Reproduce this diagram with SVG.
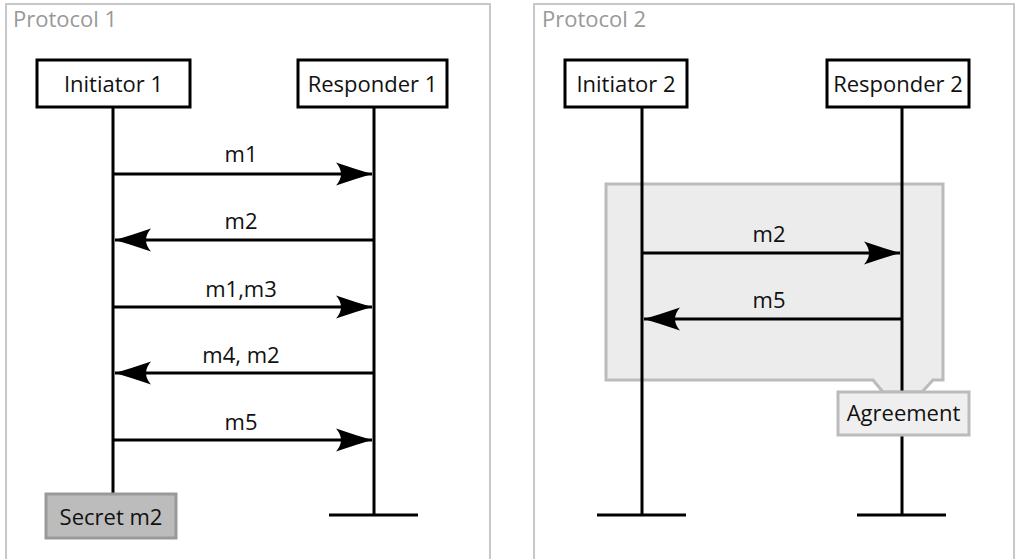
<svg xmlns="http://www.w3.org/2000/svg" width="1019" height="559" viewBox="0 0 1019 559">
<style>
text{font-family:"Open Sans","Liberation Sans",sans-serif;font-size:22px;fill:#111}
.frame{fill:none;stroke:#c8c8c8;stroke-width:2}
.title{fill:#999;font-size:22px}
.actor{fill:#fff;stroke:#000;stroke-width:3}
.life{stroke:#000;stroke-width:3;fill:none}
.msg{stroke:#000;stroke-width:3;fill:none;marker-end:url(#ah)}
.lbl{text-anchor:middle}
</style>
<defs>
<marker id="ah" markerUnits="userSpaceOnUse" orient="auto" markerWidth="40" markerHeight="30" refX="37" refY="12" viewBox="0 0 40 24">
<path d="M37,12 Q20,7 1,0.5 Q11,12 1,23.5 Q20,17 37,12 Z" fill="#000"/>
</marker>
</defs>
<g id="frame1">
<path class="frame" d="M6,565 V4 H490 V565"/>
<text class="title" x="13" y="27">Protocol 1</text>
</g>
<g id="frame2">
<path class="frame" d="M534,565 V4 H1014 V565"/>
<text class="title" x="542" y="27">Protocol 2</text>
</g>
<g id="agreement-region">
<path d="M606,184 H943 V380 H933 L922,392 H883 L873,380 H606 Z" fill="#ececec" stroke="#bbb" stroke-width="3"/>
</g>
<g id="lifelines">
<path class="life" d="M113,107 V494"/>
<path class="life" d="M374,107 V515 M329,515 H418"/>
<path class="life" d="M642,107 V515 M597,515 H686"/>
<path class="life" d="M902,107 V515 M857,515 H946"/>
</g>
<g id="initiator1"><rect class="actor" x="37" y="60" width="153" height="47"/><text class="lbl" x="113.5" y="92">Initiator 1</text></g>
<g id="responder1"><rect class="actor" x="298" y="60" width="149" height="47"/><text class="lbl" x="372.5" y="92">Responder 1</text></g>
<g id="initiator2"><rect class="actor" x="565" y="60" width="122" height="47"/><text class="lbl" x="626" y="92">Initiator 2</text></g>
<g id="responder2"><rect class="actor" x="827" y="60" width="142" height="47"/><text class="lbl" x="898" y="92">Responder 2</text></g>
<g id="connectors">
<path class="msg" d="M113,174 H372"/>
<path class="msg" d="M374,240 H115"/>
<path class="msg" d="M113,307 H372"/>
<path class="msg" d="M374,373 H115"/>
<path class="msg" d="M113,440 H372"/>
<path class="msg" d="M642,253 H900"/>
<path class="msg" d="M902,319 H644"/>
<text class="lbl" x="241" y="162">m1</text>
<text class="lbl" x="241" y="229">m2</text>
<text class="lbl" x="241" y="297">m1,m3</text>
<text class="lbl" x="241" y="363">m4, m2</text>
<text class="lbl" x="241" y="430">m5</text>
<text class="lbl" x="769" y="242">m2</text>
<text class="lbl" x="769" y="308">m5</text>
</g>
<g id="secret"><rect x="46" y="494" width="130" height="44" fill="#bcbcbc" stroke="#999" stroke-width="3"/><text class="lbl" x="111" y="525">Secret m2</text></g>
<g id="agreement"><rect x="838" y="392" width="131" height="43" fill="#efefef" stroke="#bbb" stroke-width="3"/><text class="lbl" x="903.5" y="421">Agreement</text></g>
</svg>
